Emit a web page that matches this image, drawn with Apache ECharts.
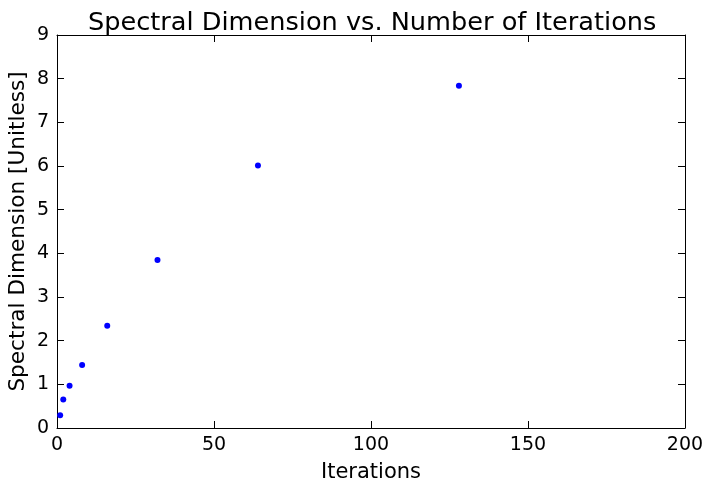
<!DOCTYPE html>
<html><head><meta charset="utf-8">
<script src="https://cdn.jsdelivr.net/npm/echarts@6/dist/echarts.min.js"></script>
<style>html,body{margin:0;padding:0;background:#fff}#c{width:705px;height:480px}</style>
</head><body><div id="c"></div>
<script>
const iterations = [1, 2, 4, 8, 16, 32, 64, 128];
const spectralDim = [0.29, 0.65, 0.97, 1.44, 2.34, 3.85, 6.01, 7.84];
const xTicks = [0, 50, 100, 150, 200];
const yTicks = [0, 1, 2, 3, 4, 5, 6, 7, 8, 9];

const font = 'DejaVu Sans';
const chart = echarts.init(document.getElementById('c'), null, {renderer: 'canvas'});
const axisLine = {show: true, onZero: false, lineStyle: {color: '#000', width: 1}};
const tick = {show: true, inside: true, length: 7, lineStyle: {color: '#000'}};
chart.setOption({
  animation: false,
  backgroundColor: '#fff',
  title: {text: 'Spectral Dimension vs. Number of Iterations', left: 83, top: 5,
    textStyle: {fontFamily: font, fontSize: 25.6, fontWeight: 'normal', color: '#000'}},
  grid: {left: 57, right: 20, top: 35, bottom: 52, containLabel: false, outerBoundsMode: 'none'},
  xAxis: [
    {type: 'value', min: xTicks[0], max: xTicks[xTicks.length-1], interval: 50, position: 'bottom',
     name: 'Iterations', nameLocation: 'middle', nameGap: 34,
     nameTextStyle: {fontFamily: font, fontSize: 21, color: '#000'},
     axisLine, axisTick: tick, splitLine: {show: false},
     axisLabel: {fontFamily: font, fontSize: 19, color: '#000', margin: 8}},
    {type: 'value', min: xTicks[0], max: xTicks[xTicks.length-1], interval: 50, position: 'top',
     axisLine, axisTick: tick, splitLine: {show: false}, axisLabel: {show: false}}
  ],
  yAxis: [
    {type: 'value', min: yTicks[0], max: yTicks[yTicks.length-1], interval: 1, position: 'left',
     name: 'Spectral Dimension [Unitless]', nameLocation: 'middle', nameGap: 28, nameMoveOverlap: false,
     nameTextStyle: {fontFamily: font, fontSize: 21.6, color: '#000'},
     axisLine, axisTick: tick, splitLine: {show: false},
     axisLabel: {fontFamily: font, fontSize: 19, color: '#000', margin: 8}},
    {type: 'value', min: yTicks[0], max: yTicks[yTicks.length-1], interval: 1, position: 'right',
     axisLine, axisTick: tick, splitLine: {show: false}, axisLabel: {show: false}}
  ],
  series: [{
    type: 'scatter', xAxisIndex: 0, yAxisIndex: 0,
    data: iterations.map((x, i) => [x, spectralDim[i]]),
    symbol: 'circle', symbolSize: 6,
    itemStyle: {color: '#0000ff', opacity: 1}
  }]
});
</script></body></html>
